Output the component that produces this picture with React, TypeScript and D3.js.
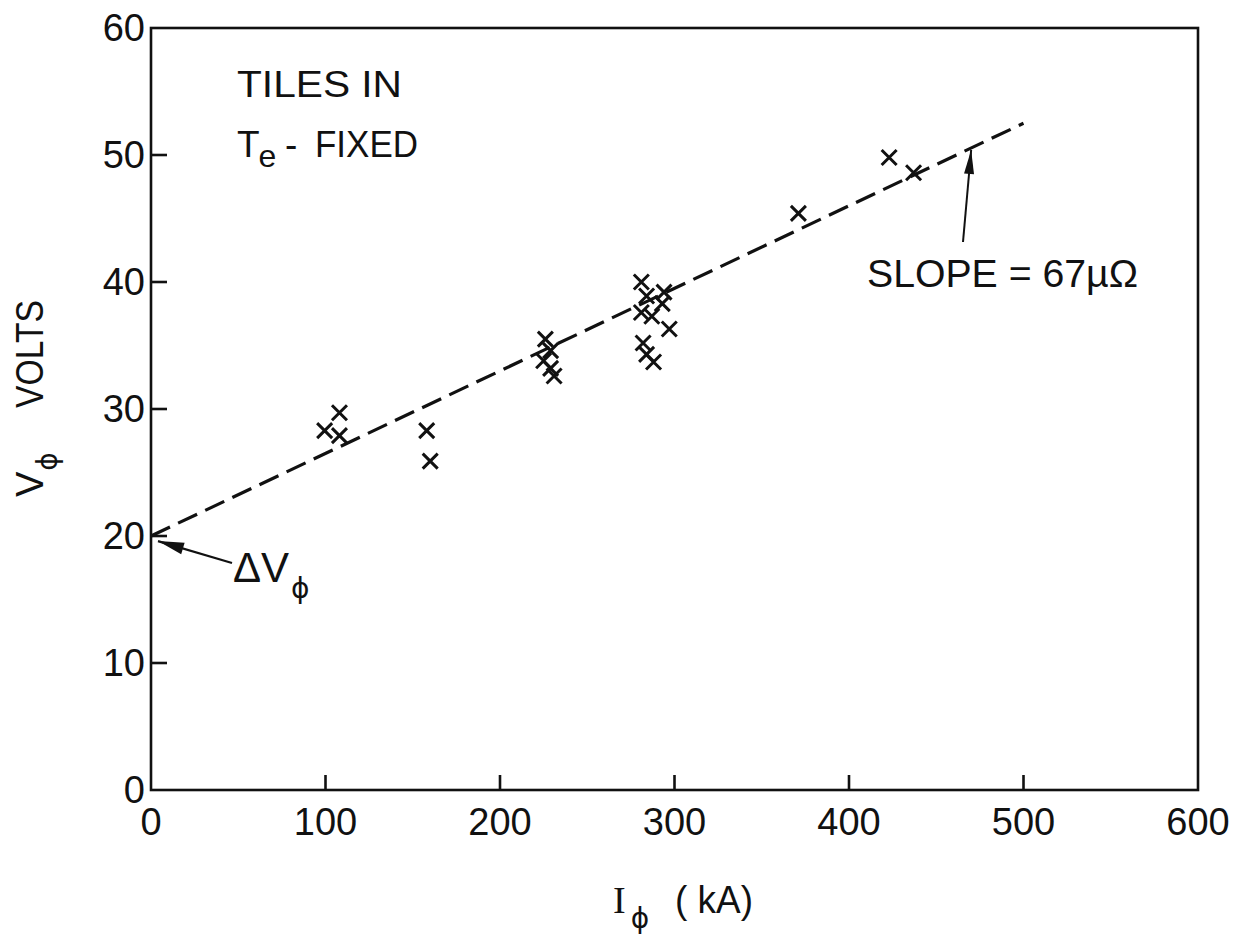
import React from 'react';
import * as d3 from 'd3';

// Data
const currentKA = [99.5, 108, 108, 158, 160, 226, 229, 225, 229, 231, 281, 284, 294, 293, 281, 287, 297, 282, 284, 288, 371, 423, 437];
const voltsV = [28.3, 29.7, 27.9, 28.3, 25.9, 35.5, 34.6, 33.8, 33.2, 32.6, 40.0, 38.9, 39.2, 38.3, 37.6, 37.3, 36.3, 35.2, 34.3, 33.7, 45.4, 49.8, 48.6];
const fitCurrent = [0, 500];
const fitVolts = [20.0, 52.5];
const xTickLabels = [0, 100, 200, 300, 400, 500, 600];
const yTickLabels = [0, 10, 20, 30, 40, 50, 60];
const xTickMarks = [100, 200, 300, 400, 500];
const yTickMarks = [10, 20, 30, 40, 50];

const FONT = "'Liberation Sans', Arial, sans-serif";
const PHI_FONT = "'DejaVu Sans', sans-serif";

function arrowHead(x1: number, y1: number, x2: number, y2: number, len: number, hw: number) {
  const dx = x2 - x1, dy = y2 - y1;
  const L = Math.sqrt(dx * dx + dy * dy);
  const ux = dx / L, uy = dy / L;
  const bx = x2 - ux * len, by = y2 - uy * len;
  const nx = -uy, ny = ux;
  return `M${x2},${y2}L${bx + nx * hw},${by + ny * hw}L${bx - nx * hw},${by - ny * hw}Z`;
}

export default function App() {
  const W = 1234, H = 936;
  const x = d3.scaleLinear().domain([0, 600]).range([151, 1198]);
  const y = d3.scaleLinear().domain([0, 60]).range([790, 28]);
  const fitLine = d3.line<number>().x((d) => x(d)).y((d, i) => y(fitVolts[i]));
  const fitAt = (v: number) => fitVolts[0] + (fitVolts[1] - fitVolts[0]) * (v - fitCurrent[0]) / (fitCurrent[1] - fitCurrent[0]);

  // slope arrow
  const sTipX = x(470), sTipY = y(fitAt(470)) + 2;
  const sTailX = 963, sTailY = 242;
  // delta V arrow
  const dTipX = x(4), dTipY = y(19.6);
  const dTailX = 232, dTailY = 563;

  const s = 7.5;
  return (
    <svg width={W} height={H} style={{ position: 'absolute', left: 0, top: 0, background: '#fff' }} fontFamily={FONT}>
      <rect x={0} y={0} width={W} height={H} fill="#fff" />
      {/* frame */}
      <rect x={x(0)} y={y(60)} width={x(600) - x(0)} height={y(0) - y(60)} fill="none" stroke="#111" strokeWidth={2.6} />
      {/* ticks */}
      {xTickMarks.map((t) => (
        <line key={'xt' + t} x1={x(t)} x2={x(t)} y1={y(0)} y2={y(0) - 15} stroke="#111" strokeWidth={2.6} />
      ))}
      {yTickMarks.map((t) => (
        <line key={'yt' + t} x1={x(0)} x2={x(0) + 16} y1={y(t)} y2={y(t)} stroke="#111" strokeWidth={2.6} />
      ))}
      {/* tick labels */}
      {xTickLabels.map((t) => (
        <text key={'xl' + t} x={x(t)} y={835} textAnchor="middle" fontSize={38} fill="#111">{t}</text>
      ))}
      {yTickLabels.map((t) => (
        <text key={'yl' + t} x={145} y={y(t) + 13} textAnchor="end" fontSize={38} fill="#111">{t}</text>
      ))}
      {/* fit line */}
      <path d={fitLine(fitCurrent) || ''} fill="none" stroke="#111" strokeWidth={3.2} strokeDasharray="21,9" />
      {/* data points */}
      {currentKA.map((c, i) => (
        <path key={'p' + i} d={`M${x(c) - s},${y(voltsV[i]) - s}L${x(c) + s},${y(voltsV[i]) + s}M${x(c) - s},${y(voltsV[i]) + s}L${x(c) + s},${y(voltsV[i]) - s}`} stroke="#111" strokeWidth={3} fill="none" />
      ))}
      {/* slope annotation */}
      <line x1={sTailX} y1={sTailY} x2={sTipX} y2={sTipY} stroke="#111" strokeWidth={2} />
      <path d={arrowHead(sTailX, sTailY, sTipX, sTipY, 24, 5)} fill="#111" />
      <text x={867} y={287} fontSize={38} fill="#111" textLength={271} lengthAdjust="spacingAndGlyphs">SLOPE = 67µΩ</text>
      {/* delta V annotation */}
      <line x1={dTailX} y1={dTailY} x2={dTipX} y2={dTipY} stroke="#111" strokeWidth={2.2} />
      <path d={arrowHead(dTailX, dTailY, dTipX, dTipY, 26, 6)} fill="#111" />
      <text x={233} y={582} fontSize={42} fill="#111">
        ΔV<tspan fontSize={28} dx={2} dy={16} fontFamily={PHI_FONT}>ϕ</tspan>
      </text>
      {/* header text */}
      <text x={237} y={97} fontSize={37} fill="#111" textLength={165} lengthAdjust="spacingAndGlyphs">TILES IN</text>
      <text x={237} y={157} fontSize={37} fill="#111">
        T<tspan fontSize={32} dx={-1} dy={10}>e</tspan>
        <tspan x={285} y={157}>-</tspan>
        <tspan x={315} y={157} textLength={103} lengthAdjust="spacingAndGlyphs">FIXED</tspan>
      </text>
      {/* x-axis title */}
      <text x={613} y={913} fontSize={38} fill="#111">
        <tspan fontFamily="'Liberation Serif', serif">I</tspan>
        <tspan fontSize={28} dx={5} dy={15} fontFamily={PHI_FONT}>ϕ</tspan>
        <tspan x={675} y={913} textLength={78} lengthAdjust="spacingAndGlyphs">( kA)</tspan>
      </text>
      {/* y-axis title */}
      <g transform="translate(43,497) rotate(-90)">
        <text x={0} y={0} fontSize={38} fill="#111">
          V<tspan fontSize={28} dx={1} dy={14} fontFamily={PHI_FONT}>ϕ</tspan>
          <tspan x={89} y={0} textLength={108} lengthAdjust="spacingAndGlyphs">VOLTS</tspan>
        </text>
      </g>
    </svg>
  );
}
